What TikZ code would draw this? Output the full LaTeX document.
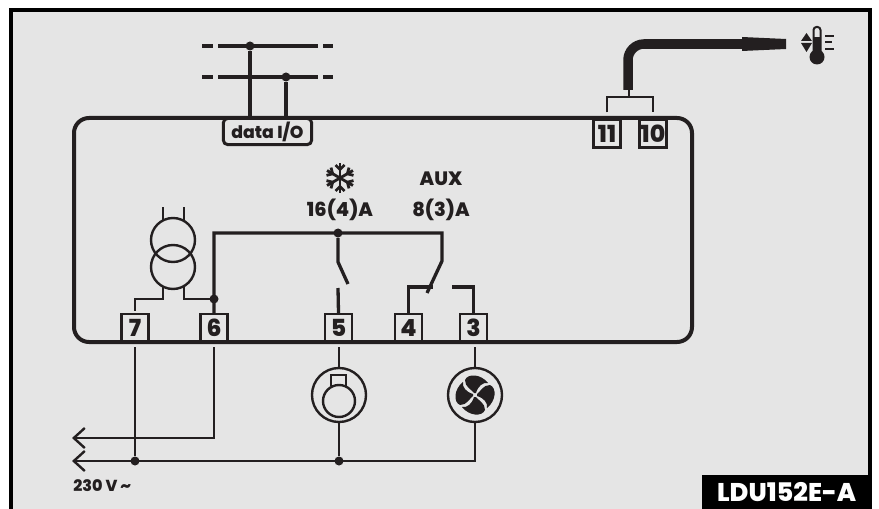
\documentclass[tikz,border=0pt]{standalone}
\usepackage{fontspec}
\setmainfont{Poppins}[BoldFont={Poppins ExtraBold}]
\definecolor{ink}{HTML}{231F20}
\definecolor{panel}{HTML}{E5E5E5}
\tikzset{
  wire/.style={draw=ink,line width=0.033in},
  thinwire/.style={draw=ink,line width=0.024in},
  buswire/.style={draw=ink,line width=0.042in},
  term/.style={draw=ink,line width=0.024in,minimum width=0.27in,minimum height=0.28in,inner sep=0pt,font=\bfseries\fontsize{17}{17}\selectfont,text=ink},
  lbl/.style={inner sep=0pt,text=ink,font=\bfseries\fontsize{14}{14}\selectfont},
  dot/.style={circle,fill=ink,minimum size=0.09in,inner sep=0pt},
  openarrow/.style={-{Straight Barb[length=0.11in,width=0.20in,line width=0.024in]}}
}
\usetikzlibrary{arrows.meta,calc}
\begin{document}
\begin{tikzpicture}[x=0.01in,y=-0.01in]
  \useasboundingbox (0,0) rectangle (879,509);
  % frame
  \fill[panel] (11,10) rectangle (870,509);
  \draw[black,line width=0.04in] (11,509) -- (11,10) -- (870,10) -- (870,509);
  \node[fill=black,text=white,anchor=south east,minimum width=1.70in,minimum height=0.34in,inner sep=0pt,font=\bfseries\fontsize{18.5}{18.5}\selectfont] (tag) at (872,509) {LDU152E-A};
  % controller
  \draw[ink,line width=0.04in,rounded corners=0.15in] (74,118) rectangle (692,342);
  \node[term] (t7) at (135,328) {7};
  \node[term] (t6) at (214,328) {6};
  \node[term] (t5) at (338.5,328) {5};
  \node[term] (t4) at (408.5,328) {4};
  \node[term] (t3) at (473.5,328) {3};
  \node[term] (t11) at (607,133.5) {11};
  \node[term] (t10) at (653,133.5) {10};
  \node[draw=ink,fill=panel,line width=0.03in,rounded corners=0.04in,minimum width=0.88in,minimum height=0.26in,inner sep=0pt,text=ink,font=\bfseries\fontsize{12.5}{12.5}\selectfont] (io) at (267.5,131.5) {data I/O};
  % data bus
  \coordinate (busa) at (250,46);
  \coordinate (busb) at (286,77);
  \foreach \y in {46,77} {
    \draw[buswire] (202,\y) -- (213,\y);
    \draw[buswire] (218,\y) -- (318,\y);
    \draw[buswire] (323,\y) -- (333,\y);
  }
  \node[dot] (dotbusa) at (busa) {};
  \node[dot] (dotbusb) at (busb) {};
  \draw[buswire] (dotbusa) -- (dotbusa |- io.north);
  \draw[buswire] (dotbusb) -- (dotbusb |- io.north);
  % probe
  \coordinate (fork) at (629,97);
  \coordinate (tip) at (742,44);
  \draw[ink,line width=0.024in] ($(t11.north)+(0,-6)$) |- (fork) -| ($(t10.north)+(0,-6)$);
  \draw[ink,line width=0.024in] (fork) -- ++(0,-8);
  \draw[ink,line width=0.095in,rounded corners=0.16in] (628,90) |- (tip);
  \fill[ink] (742,37) -- (786,39) -- (786,49) -- (742,51) -- cycle;
  % thermometer
  \fill[ink] (801,41) -- (806.5,33) -- (812,41) -- cycle;
  \fill[ink] (801,43) -- (806.5,52) -- (812,43) -- cycle;
  \fill[ink] (817,57) circle[radius=7.5];
  \draw[ink,line width=0.02in,fill=panel,rounded corners=0.03in] (813.5,52) -- (813.5,27) -- (820.5,27) -- (820.5,52);
  \fill[ink] (813.5,37) rectangle (820.5,52);
  \draw[ink,line width=0.025in] (825,36) -- (834,36);
  \draw[ink,line width=0.025in] (825,42) -- (832,42);
  \draw[ink,line width=0.025in] (825,49) -- (834,49);
  % transformer
  \draw[thinwire] (173,240) circle[radius=22];
  \draw[thinwire] (173,267) circle[radius=22];
  \coordinate (hot) at (214,299);
  \coordinate (rail) at (442,233);
  \draw[thinwire] (163,207) -- (163,220);
  \draw[thinwire] (184,207) -- (184,220);
  \draw[thinwire] (163,287) -- (163,299) -| ($(t7.north)+(0,-2)$);
  \draw[thinwire] (184,287) |- (hot);
  \draw[wire] (t6.north) -- (214,233) -- (rail) -- (442,261) -- (427,293);
  \node[dot] (dothot) at (hot) {};
  \node[dot] (dotrail) at (338,233) {};
  % relays
  \draw[wire] (dotrail) -- (338,262) -- (348,284);
  \draw[wire] (t5.north) -- (338,288);
  \coordinate (c4) at (433,287);
  \coordinate (c3) at (452,287);
  \draw[wire] (t4.north) |- (c4);
  \draw[wire] (t3.north) |- (c3);
  % snowflake
  \foreach \a in {0,60,120,180,240,300} {
    \begin{scope}[shift={(340,178)},rotate=\a]
      \draw[ink,line width=0.028in] (0,0) -- (0,-15);
      \draw[ink,line width=0.028in] (-4.5,-13) -- (0,-8.5) -- (4.5,-13);
    \end{scope}
  }
  \node[lbl] (ratea) at (340,210) {16(4)A};
  \node[lbl] (aux) at (441,179) {AUX};
  \node[lbl] (rateb) at (441,210) {8(3)A};
  % loads
  \node[draw=ink,line width=0.024in,circle,minimum size=0.54in,inner sep=0pt] (comp) at (339,395) {};
  \draw[thinwire] (339,401) circle[radius=16];
  \draw[thinwire] (331,386) -- (331,375) -- (346,375) -- (346,386);
  \node[draw=ink,line width=0.024in,circle,minimum size=0.54in,inner sep=0pt] (fan) at (475,395) {};
  \foreach \a in {0,90,180,270} {
    \fill[ink,shift={(475,395)},rotate=\a] (-1,-2) .. controls (-4,-6) and (-10,-8) .. (-10,-15) .. controls (-7,-22) and (6,-21) .. (13,-12) .. controls (8,-13) and (3,-9) .. (1,-2) -- cycle;
  }
  % mains
  \coordinate (lineb) at (72,461);
  \coordinate (linea) at (72,438);
  \node[dot] (dotn) at (135,461) {};
  \node[dot] (dotm) at (339,461) {};
  \draw[thinwire] (135,347) -- (dotn);
  \draw[thinwire,openarrow] (214,347) |- (linea);
  \draw[thinwire,openarrow] (fan.south) |- (lineb);
  \draw[thinwire] (339,347) -- (comp.north);
  \draw[thinwire] (475,347) -- (fan.north);
  \draw[thinwire] (comp.south) -- (dotm);
  \node[lbl,anchor=west,font=\bfseries\fontsize{11.5}{11.5}\selectfont] (volts) at (73,486) {230 V \char"007E};
\end{tikzpicture}
\end{document}
